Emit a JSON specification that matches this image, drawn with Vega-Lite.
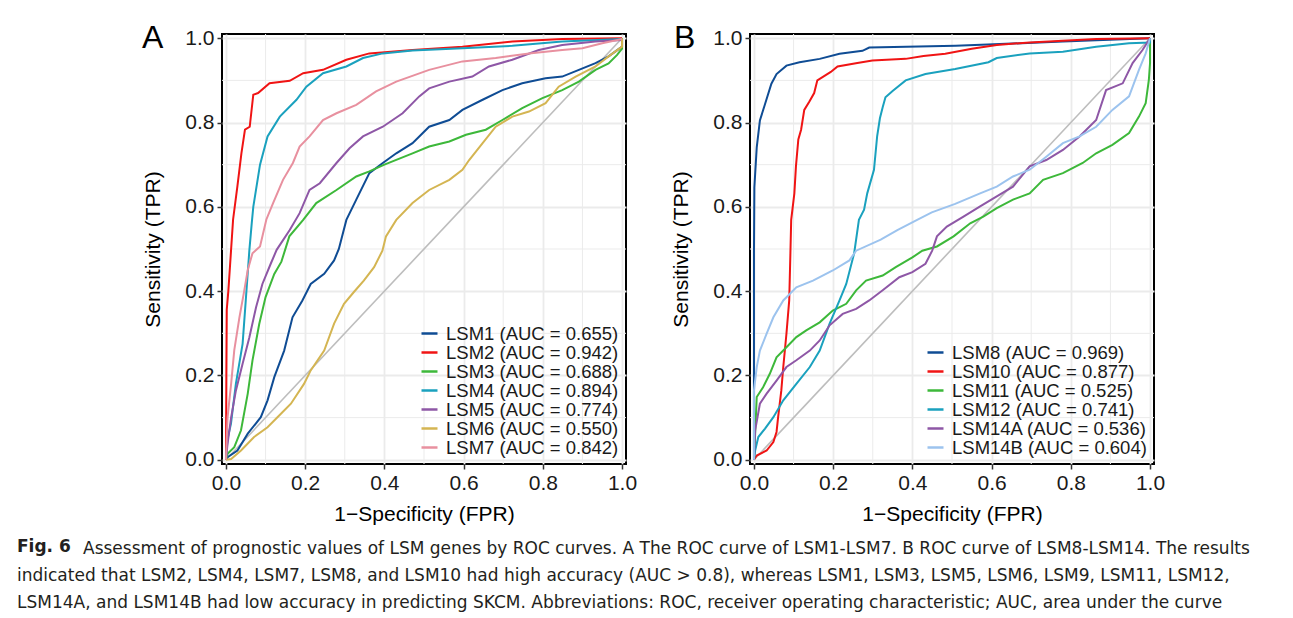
{
  "$schema": "https://vega.github.io/schema/vega-lite/v6.json",
  "padding": {"left": 17, "top": 21, "right": 5, "bottom": 5},
  "background": "white",
  "title": {"text": "Fig. 6", "orient": "bottom", "anchor": "start", "frame": "bounds", "font": "DejaVu Sans", "fontSize": 17, "fontWeight": "bold", "color": "#231F20", "offset": -72},
  "datasets": {
    "grid": [{"g": 0.1}, {"g": 0.3}, {"g": 0.5}, {"g": 0.7}, {"g": 0.9}],
    "diag": [{"x": 0, "y": 0}, {"x": 1, "y": 1}],
    "a": [
      {"s":"LSM1 (AUC = 0.655)","x":0,"y":0},{"s":"LSM1 (AUC = 0.655)","x":0.004,"y":0.006},{"s":"LSM1 (AUC = 0.655)","x":0.029,"y":0.022},{"s":"LSM1 (AUC = 0.655)","x":0.055,"y":0.062},{"s":"LSM1 (AUC = 0.655)","x":0.088,"y":0.101},{"s":"LSM1 (AUC = 0.655)","x":0.105,"y":0.141},{"s":"LSM1 (AUC = 0.655)","x":0.122,"y":0.196},{"s":"LSM1 (AUC = 0.655)","x":0.147,"y":0.259},{"s":"LSM1 (AUC = 0.655)","x":0.168,"y":0.338},{"s":"LSM1 (AUC = 0.655)","x":0.193,"y":0.378},{"s":"LSM1 (AUC = 0.655)","x":0.214,"y":0.417},{"s":"LSM1 (AUC = 0.655)","x":0.248,"y":0.441},{"s":"LSM1 (AUC = 0.655)","x":0.273,"y":0.473},{"s":"LSM1 (AUC = 0.655)","x":0.285,"y":0.5},{"s":"LSM1 (AUC = 0.655)","x":0.304,"y":0.569},{"s":"LSM1 (AUC = 0.655)","x":0.329,"y":0.617},{"s":"LSM1 (AUC = 0.655)","x":0.362,"y":0.68},{"s":"LSM1 (AUC = 0.655)","x":0.396,"y":0.704},{"s":"LSM1 (AUC = 0.655)","x":0.43,"y":0.727},{"s":"LSM1 (AUC = 0.655)","x":0.471,"y":0.751},{"s":"LSM1 (AUC = 0.655)","x":0.513,"y":0.79},{"s":"LSM1 (AUC = 0.655)","x":0.564,"y":0.806},{"s":"LSM1 (AUC = 0.655)","x":0.597,"y":0.83},{"s":"LSM1 (AUC = 0.655)","x":0.648,"y":0.854},{"s":"LSM1 (AUC = 0.655)","x":0.698,"y":0.877},{"s":"LSM1 (AUC = 0.655)","x":0.748,"y":0.893},{"s":"LSM1 (AUC = 0.655)","x":0.807,"y":0.905},{"s":"LSM1 (AUC = 0.655)","x":0.849,"y":0.909},{"s":"LSM1 (AUC = 0.655)","x":0.891,"y":0.925},{"s":"LSM1 (AUC = 0.655)","x":0.933,"y":0.941},{"s":"LSM1 (AUC = 0.655)","x":0.966,"y":0.957},{"s":"LSM1 (AUC = 0.655)","x":1,"y":0.98},{"s":"LSM1 (AUC = 0.655)","x":1,"y":1},
      {"s":"LSM2 (AUC = 0.942)","x":0,"y":0},{"s":"LSM2 (AUC = 0.942)","x":0.001,"y":0.2},{"s":"LSM2 (AUC = 0.942)","x":0.002,"y":0.356},{"s":"LSM2 (AUC = 0.942)","x":0.006,"y":0.4},{"s":"LSM2 (AUC = 0.942)","x":0.018,"y":0.57},{"s":"LSM2 (AUC = 0.942)","x":0.029,"y":0.65},{"s":"LSM2 (AUC = 0.942)","x":0.039,"y":0.727},{"s":"LSM2 (AUC = 0.942)","x":0.048,"y":0.783},{"s":"LSM2 (AUC = 0.942)","x":0.06,"y":0.79},{"s":"LSM2 (AUC = 0.942)","x":0.069,"y":0.866},{"s":"LSM2 (AUC = 0.942)","x":0.081,"y":0.87},{"s":"LSM2 (AUC = 0.942)","x":0.11,"y":0.893},{"s":"LSM2 (AUC = 0.942)","x":0.161,"y":0.899},{"s":"LSM2 (AUC = 0.942)","x":0.195,"y":0.917},{"s":"LSM2 (AUC = 0.942)","x":0.245,"y":0.925},{"s":"LSM2 (AUC = 0.942)","x":0.304,"y":0.949},{"s":"LSM2 (AUC = 0.942)","x":0.362,"y":0.964},{"s":"LSM2 (AUC = 0.942)","x":0.471,"y":0.972},{"s":"LSM2 (AUC = 0.942)","x":0.597,"y":0.98},{"s":"LSM2 (AUC = 0.942)","x":0.723,"y":0.992},{"s":"LSM2 (AUC = 0.942)","x":0.849,"y":0.998},{"s":"LSM2 (AUC = 0.942)","x":1,"y":1},
      {"s":"LSM3 (AUC = 0.688)","x":0,"y":0},{"s":"LSM3 (AUC = 0.688)","x":0.004,"y":0.014},{"s":"LSM3 (AUC = 0.688)","x":0.021,"y":0.03},{"s":"LSM3 (AUC = 0.688)","x":0.038,"y":0.07},{"s":"LSM3 (AUC = 0.688)","x":0.055,"y":0.157},{"s":"LSM3 (AUC = 0.688)","x":0.067,"y":0.236},{"s":"LSM3 (AUC = 0.688)","x":0.084,"y":0.322},{"s":"LSM3 (AUC = 0.688)","x":0.1,"y":0.386},{"s":"LSM3 (AUC = 0.688)","x":0.122,"y":0.441},{"s":"LSM3 (AUC = 0.688)","x":0.14,"y":0.47},{"s":"LSM3 (AUC = 0.688)","x":0.16,"y":0.53},{"s":"LSM3 (AUC = 0.688)","x":0.195,"y":0.569},{"s":"LSM3 (AUC = 0.688)","x":0.228,"y":0.609},{"s":"LSM3 (AUC = 0.688)","x":0.279,"y":0.64},{"s":"LSM3 (AUC = 0.688)","x":0.329,"y":0.672},{"s":"LSM3 (AUC = 0.688)","x":0.362,"y":0.684},{"s":"LSM3 (AUC = 0.688)","x":0.4,"y":0.7},{"s":"LSM3 (AUC = 0.688)","x":0.471,"y":0.727},{"s":"LSM3 (AUC = 0.688)","x":0.513,"y":0.743},{"s":"LSM3 (AUC = 0.688)","x":0.564,"y":0.755},{"s":"LSM3 (AUC = 0.688)","x":0.606,"y":0.771},{"s":"LSM3 (AUC = 0.688)","x":0.656,"y":0.783},{"s":"LSM3 (AUC = 0.688)","x":0.698,"y":0.806},{"s":"LSM3 (AUC = 0.688)","x":0.748,"y":0.834},{"s":"LSM3 (AUC = 0.688)","x":0.799,"y":0.858},{"s":"LSM3 (AUC = 0.688)","x":0.849,"y":0.877},{"s":"LSM3 (AUC = 0.688)","x":0.891,"y":0.897},{"s":"LSM3 (AUC = 0.688)","x":0.933,"y":0.925},{"s":"LSM3 (AUC = 0.688)","x":0.966,"y":0.94},{"s":"LSM3 (AUC = 0.688)","x":0.987,"y":0.96},{"s":"LSM3 (AUC = 0.688)","x":1,"y":0.975},{"s":"LSM3 (AUC = 0.688)","x":1,"y":1},
      {"s":"LSM4 (AUC = 0.894)","x":0,"y":0},{"s":"LSM4 (AUC = 0.894)","x":0.004,"y":0.05},{"s":"LSM4 (AUC = 0.894)","x":0.0126,"y":0.085},{"s":"LSM4 (AUC = 0.894)","x":0.025,"y":0.18},{"s":"LSM4 (AUC = 0.894)","x":0.042,"y":0.275},{"s":"LSM4 (AUC = 0.894)","x":0.05,"y":0.378},{"s":"LSM4 (AUC = 0.894)","x":0.059,"y":0.496},{"s":"LSM4 (AUC = 0.894)","x":0.065,"y":0.56},{"s":"LSM4 (AUC = 0.894)","x":0.069,"y":0.6},{"s":"LSM4 (AUC = 0.894)","x":0.086,"y":0.7},{"s":"LSM4 (AUC = 0.894)","x":0.105,"y":0.767},{"s":"LSM4 (AUC = 0.894)","x":0.136,"y":0.814},{"s":"LSM4 (AUC = 0.894)","x":0.178,"y":0.854},{"s":"LSM4 (AUC = 0.894)","x":0.203,"y":0.885},{"s":"LSM4 (AUC = 0.894)","x":0.245,"y":0.917},{"s":"LSM4 (AUC = 0.894)","x":0.304,"y":0.933},{"s":"LSM4 (AUC = 0.894)","x":0.346,"y":0.953},{"s":"LSM4 (AUC = 0.894)","x":0.396,"y":0.964},{"s":"LSM4 (AUC = 0.894)","x":0.471,"y":0.971},{"s":"LSM4 (AUC = 0.894)","x":0.597,"y":0.976},{"s":"LSM4 (AUC = 0.894)","x":0.723,"y":0.982},{"s":"LSM4 (AUC = 0.894)","x":0.849,"y":0.992},{"s":"LSM4 (AUC = 0.894)","x":1,"y":0.998},
      {"s":"LSM5 (AUC = 0.774)","x":0,"y":0},{"s":"LSM5 (AUC = 0.774)","x":0.004,"y":0.038},{"s":"LSM5 (AUC = 0.774)","x":0.013,"y":0.1},{"s":"LSM5 (AUC = 0.774)","x":0.025,"y":0.164},{"s":"LSM5 (AUC = 0.774)","x":0.042,"y":0.228},{"s":"LSM5 (AUC = 0.774)","x":0.059,"y":0.29},{"s":"LSM5 (AUC = 0.774)","x":0.076,"y":0.362},{"s":"LSM5 (AUC = 0.774)","x":0.092,"y":0.417},{"s":"LSM5 (AUC = 0.774)","x":0.113,"y":0.465},{"s":"LSM5 (AUC = 0.774)","x":0.128,"y":0.498},{"s":"LSM5 (AUC = 0.774)","x":0.161,"y":0.545},{"s":"LSM5 (AUC = 0.774)","x":0.186,"y":0.585},{"s":"LSM5 (AUC = 0.774)","x":0.211,"y":0.64},{"s":"LSM5 (AUC = 0.774)","x":0.237,"y":0.656},{"s":"LSM5 (AUC = 0.774)","x":0.279,"y":0.704},{"s":"LSM5 (AUC = 0.774)","x":0.312,"y":0.739},{"s":"LSM5 (AUC = 0.774)","x":0.346,"y":0.767},{"s":"LSM5 (AUC = 0.774)","x":0.396,"y":0.79},{"s":"LSM5 (AUC = 0.774)","x":0.446,"y":0.822},{"s":"LSM5 (AUC = 0.774)","x":0.488,"y":0.862},{"s":"LSM5 (AUC = 0.774)","x":0.513,"y":0.881},{"s":"LSM5 (AUC = 0.774)","x":0.564,"y":0.897},{"s":"LSM5 (AUC = 0.774)","x":0.622,"y":0.909},{"s":"LSM5 (AUC = 0.774)","x":0.664,"y":0.933},{"s":"LSM5 (AUC = 0.774)","x":0.723,"y":0.949},{"s":"LSM5 (AUC = 0.774)","x":0.79,"y":0.972},{"s":"LSM5 (AUC = 0.774)","x":0.849,"y":0.984},{"s":"LSM5 (AUC = 0.774)","x":0.933,"y":0.992},{"s":"LSM5 (AUC = 0.774)","x":1,"y":0.996},
      {"s":"LSM6 (AUC = 0.550)","x":0,"y":0},{"s":"LSM6 (AUC = 0.550)","x":0.013,"y":0.002},{"s":"LSM6 (AUC = 0.550)","x":0.038,"y":0.022},{"s":"LSM6 (AUC = 0.550)","x":0.071,"y":0.054},{"s":"LSM6 (AUC = 0.550)","x":0.105,"y":0.077},{"s":"LSM6 (AUC = 0.550)","x":0.13,"y":0.101},{"s":"LSM6 (AUC = 0.550)","x":0.164,"y":0.133},{"s":"LSM6 (AUC = 0.550)","x":0.197,"y":0.18},{"s":"LSM6 (AUC = 0.550)","x":0.214,"y":0.212},{"s":"LSM6 (AUC = 0.550)","x":0.248,"y":0.259},{"s":"LSM6 (AUC = 0.550)","x":0.273,"y":0.323},{"s":"LSM6 (AUC = 0.550)","x":0.298,"y":0.37},{"s":"LSM6 (AUC = 0.550)","x":0.323,"y":0.398},{"s":"LSM6 (AUC = 0.550)","x":0.348,"y":0.425},{"s":"LSM6 (AUC = 0.550)","x":0.374,"y":0.457},{"s":"LSM6 (AUC = 0.550)","x":0.395,"y":0.496},{"s":"LSM6 (AUC = 0.550)","x":0.404,"y":0.53},{"s":"LSM6 (AUC = 0.550)","x":0.43,"y":0.569},{"s":"LSM6 (AUC = 0.550)","x":0.471,"y":0.609},{"s":"LSM6 (AUC = 0.550)","x":0.513,"y":0.64},{"s":"LSM6 (AUC = 0.550)","x":0.564,"y":0.664},{"s":"LSM6 (AUC = 0.550)","x":0.597,"y":0.688},{"s":"LSM6 (AUC = 0.550)","x":0.614,"y":0.711},{"s":"LSM6 (AUC = 0.550)","x":0.648,"y":0.751},{"s":"LSM6 (AUC = 0.550)","x":0.681,"y":0.79},{"s":"LSM6 (AUC = 0.550)","x":0.723,"y":0.814},{"s":"LSM6 (AUC = 0.550)","x":0.765,"y":0.826},{"s":"LSM6 (AUC = 0.550)","x":0.807,"y":0.846},{"s":"LSM6 (AUC = 0.550)","x":0.84,"y":0.885},{"s":"LSM6 (AUC = 0.550)","x":0.883,"y":0.909},{"s":"LSM6 (AUC = 0.550)","x":0.933,"y":0.933},{"s":"LSM6 (AUC = 0.550)","x":0.966,"y":0.957},{"s":"LSM6 (AUC = 0.550)","x":1,"y":0.98},{"s":"LSM6 (AUC = 0.550)","x":1,"y":1},
      {"s":"LSM7 (AUC = 0.842)","x":0,"y":0},{"s":"LSM7 (AUC = 0.842)","x":0.004,"y":0.1},{"s":"LSM7 (AUC = 0.842)","x":0.013,"y":0.18},{"s":"LSM7 (AUC = 0.842)","x":0.021,"y":0.26},{"s":"LSM7 (AUC = 0.842)","x":0.034,"y":0.338},{"s":"LSM7 (AUC = 0.842)","x":0.046,"y":0.4},{"s":"LSM7 (AUC = 0.842)","x":0.055,"y":0.45},{"s":"LSM7 (AUC = 0.842)","x":0.067,"y":0.49},{"s":"LSM7 (AUC = 0.842)","x":0.086,"y":0.506},{"s":"LSM7 (AUC = 0.842)","x":0.102,"y":0.57},{"s":"LSM7 (AUC = 0.842)","x":0.119,"y":0.609},{"s":"LSM7 (AUC = 0.842)","x":0.144,"y":0.664},{"s":"LSM7 (AUC = 0.842)","x":0.169,"y":0.704},{"s":"LSM7 (AUC = 0.842)","x":0.186,"y":0.743},{"s":"LSM7 (AUC = 0.842)","x":0.211,"y":0.767},{"s":"LSM7 (AUC = 0.842)","x":0.245,"y":0.806},{"s":"LSM7 (AUC = 0.842)","x":0.279,"y":0.822},{"s":"LSM7 (AUC = 0.842)","x":0.329,"y":0.842},{"s":"LSM7 (AUC = 0.842)","x":0.379,"y":0.874},{"s":"LSM7 (AUC = 0.842)","x":0.43,"y":0.897},{"s":"LSM7 (AUC = 0.842)","x":0.513,"y":0.925},{"s":"LSM7 (AUC = 0.842)","x":0.597,"y":0.945},{"s":"LSM7 (AUC = 0.842)","x":0.681,"y":0.953},{"s":"LSM7 (AUC = 0.842)","x":0.765,"y":0.964},{"s":"LSM7 (AUC = 0.842)","x":0.849,"y":0.972},{"s":"LSM7 (AUC = 0.842)","x":0.9,"y":0.976},{"s":"LSM7 (AUC = 0.842)","x":0.95,"y":0.988},{"s":"LSM7 (AUC = 0.842)","x":1,"y":0.998}
    ],
    "b": [
      {"s":"LSM8 (AUC = 0.969)","x":0,"y":0},{"s":"LSM8 (AUC = 0.969)","x":0,"y":0.49},{"s":"LSM8 (AUC = 0.969)","x":0.001,"y":0.646},{"s":"LSM8 (AUC = 0.969)","x":0.007,"y":0.741},{"s":"LSM8 (AUC = 0.969)","x":0.015,"y":0.805},{"s":"LSM8 (AUC = 0.969)","x":0.028,"y":0.844},{"s":"LSM8 (AUC = 0.969)","x":0.044,"y":0.892},{"s":"LSM8 (AUC = 0.969)","x":0.057,"y":0.915},{"s":"LSM8 (AUC = 0.969)","x":0.082,"y":0.935},{"s":"LSM8 (AUC = 0.969)","x":0.115,"y":0.943},{"s":"LSM8 (AUC = 0.969)","x":0.166,"y":0.951},{"s":"LSM8 (AUC = 0.969)","x":0.216,"y":0.963},{"s":"LSM8 (AUC = 0.969)","x":0.274,"y":0.97},{"s":"LSM8 (AUC = 0.969)","x":0.291,"y":0.978},{"s":"LSM8 (AUC = 0.969)","x":0.509,"y":0.982},{"s":"LSM8 (AUC = 0.969)","x":0.59,"y":0.985},{"s":"LSM8 (AUC = 0.969)","x":0.78,"y":0.992},{"s":"LSM8 (AUC = 0.969)","x":1,"y":1},
      {"s":"LSM10 (AUC = 0.877)","x":0,"y":0},{"s":"LSM10 (AUC = 0.877)","x":0.007,"y":0.01},{"s":"LSM10 (AUC = 0.877)","x":0.032,"y":0.022},{"s":"LSM10 (AUC = 0.877)","x":0.049,"y":0.042},{"s":"LSM10 (AUC = 0.877)","x":0.057,"y":0.066},{"s":"LSM10 (AUC = 0.877)","x":0.061,"y":0.101},{"s":"LSM10 (AUC = 0.877)","x":0.069,"y":0.164},{"s":"LSM10 (AUC = 0.877)","x":0.074,"y":0.22},{"s":"LSM10 (AUC = 0.877)","x":0.082,"y":0.299},{"s":"LSM10 (AUC = 0.877)","x":0.089,"y":0.378},{"s":"LSM10 (AUC = 0.877)","x":0.092,"y":0.49},{"s":"LSM10 (AUC = 0.877)","x":0.094,"y":0.569},{"s":"LSM10 (AUC = 0.877)","x":0.102,"y":0.632},{"s":"LSM10 (AUC = 0.877)","x":0.106,"y":0.696},{"s":"LSM10 (AUC = 0.877)","x":0.112,"y":0.76},{"s":"LSM10 (AUC = 0.877)","x":0.119,"y":0.783},{"s":"LSM10 (AUC = 0.877)","x":0.127,"y":0.83},{"s":"LSM10 (AUC = 0.877)","x":0.14,"y":0.85},{"s":"LSM10 (AUC = 0.877)","x":0.152,"y":0.87},{"s":"LSM10 (AUC = 0.877)","x":0.16,"y":0.9},{"s":"LSM10 (AUC = 0.877)","x":0.194,"y":0.92},{"s":"LSM10 (AUC = 0.877)","x":0.211,"y":0.933},{"s":"LSM10 (AUC = 0.877)","x":0.261,"y":0.941},{"s":"LSM10 (AUC = 0.877)","x":0.299,"y":0.947},{"s":"LSM10 (AUC = 0.877)","x":0.383,"y":0.951},{"s":"LSM10 (AUC = 0.877)","x":0.428,"y":0.958},{"s":"LSM10 (AUC = 0.877)","x":0.483,"y":0.963},{"s":"LSM10 (AUC = 0.877)","x":0.55,"y":0.975},{"s":"LSM10 (AUC = 0.877)","x":0.613,"y":0.984},{"s":"LSM10 (AUC = 0.877)","x":0.696,"y":0.99},{"s":"LSM10 (AUC = 0.877)","x":0.78,"y":0.994},{"s":"LSM10 (AUC = 0.877)","x":0.864,"y":0.998},{"s":"LSM10 (AUC = 0.877)","x":1,"y":1},
      {"s":"LSM11 (AUC = 0.525)","x":0,"y":0},{"s":"LSM11 (AUC = 0.525)","x":0.003,"y":0.062},{"s":"LSM11 (AUC = 0.525)","x":0.007,"y":0.149},{"s":"LSM11 (AUC = 0.525)","x":0.023,"y":0.172},{"s":"LSM11 (AUC = 0.525)","x":0.04,"y":0.204},{"s":"LSM11 (AUC = 0.525)","x":0.057,"y":0.243},{"s":"LSM11 (AUC = 0.525)","x":0.082,"y":0.267},{"s":"LSM11 (AUC = 0.525)","x":0.107,"y":0.291},{"s":"LSM11 (AUC = 0.525)","x":0.132,"y":0.307},{"s":"LSM11 (AUC = 0.525)","x":0.166,"y":0.326},{"s":"LSM11 (AUC = 0.525)","x":0.199,"y":0.354},{"s":"LSM11 (AUC = 0.525)","x":0.233,"y":0.37},{"s":"LSM11 (AUC = 0.525)","x":0.258,"y":0.402},{"s":"LSM11 (AUC = 0.525)","x":0.283,"y":0.425},{"s":"LSM11 (AUC = 0.525)","x":0.325,"y":0.437},{"s":"LSM11 (AUC = 0.525)","x":0.358,"y":0.457},{"s":"LSM11 (AUC = 0.525)","x":0.4,"y":0.48},{"s":"LSM11 (AUC = 0.525)","x":0.425,"y":0.496},{"s":"LSM11 (AUC = 0.525)","x":0.462,"y":0.506},{"s":"LSM11 (AUC = 0.525)","x":0.504,"y":0.53},{"s":"LSM11 (AUC = 0.525)","x":0.546,"y":0.561},{"s":"LSM11 (AUC = 0.525)","x":0.579,"y":0.577},{"s":"LSM11 (AUC = 0.525)","x":0.613,"y":0.597},{"s":"LSM11 (AUC = 0.525)","x":0.654,"y":0.617},{"s":"LSM11 (AUC = 0.525)","x":0.696,"y":0.632},{"s":"LSM11 (AUC = 0.525)","x":0.73,"y":0.664},{"s":"LSM11 (AUC = 0.525)","x":0.78,"y":0.68},{"s":"LSM11 (AUC = 0.525)","x":0.83,"y":0.704},{"s":"LSM11 (AUC = 0.525)","x":0.864,"y":0.727},{"s":"LSM11 (AUC = 0.525)","x":0.905,"y":0.747},{"s":"LSM11 (AUC = 0.525)","x":0.947,"y":0.775},{"s":"LSM11 (AUC = 0.525)","x":0.972,"y":0.814},{"s":"LSM11 (AUC = 0.525)","x":0.989,"y":0.846},{"s":"LSM11 (AUC = 0.525)","x":0.997,"y":0.901},{"s":"LSM11 (AUC = 0.525)","x":1,"y":0.941},{"s":"LSM11 (AUC = 0.525)","x":1,"y":1},
      {"s":"LSM12 (AUC = 0.741)","x":0,"y":0},{"s":"LSM12 (AUC = 0.741)","x":0.003,"y":0.022},{"s":"LSM12 (AUC = 0.741)","x":0.011,"y":0.054},{"s":"LSM12 (AUC = 0.741)","x":0.028,"y":0.074},{"s":"LSM12 (AUC = 0.741)","x":0.049,"y":0.101},{"s":"LSM12 (AUC = 0.741)","x":0.074,"y":0.141},{"s":"LSM12 (AUC = 0.741)","x":0.107,"y":0.18},{"s":"LSM12 (AUC = 0.741)","x":0.141,"y":0.22},{"s":"LSM12 (AUC = 0.741)","x":0.166,"y":0.259},{"s":"LSM12 (AUC = 0.741)","x":0.191,"y":0.323},{"s":"LSM12 (AUC = 0.741)","x":0.216,"y":0.378},{"s":"LSM12 (AUC = 0.741)","x":0.233,"y":0.417},{"s":"LSM12 (AUC = 0.741)","x":0.253,"y":0.49},{"s":"LSM12 (AUC = 0.741)","x":0.265,"y":0.569},{"s":"LSM12 (AUC = 0.741)","x":0.278,"y":0.593},{"s":"LSM12 (AUC = 0.741)","x":0.286,"y":0.632},{"s":"LSM12 (AUC = 0.741)","x":0.303,"y":0.688},{"s":"LSM12 (AUC = 0.741)","x":0.311,"y":0.767},{"s":"LSM12 (AUC = 0.741)","x":0.318,"y":0.81},{"s":"LSM12 (AUC = 0.741)","x":0.325,"y":0.836},{"s":"LSM12 (AUC = 0.741)","x":0.332,"y":0.86},{"s":"LSM12 (AUC = 0.741)","x":0.35,"y":0.875},{"s":"LSM12 (AUC = 0.741)","x":0.383,"y":0.9},{"s":"LSM12 (AUC = 0.741)","x":0.433,"y":0.915},{"s":"LSM12 (AUC = 0.741)","x":0.508,"y":0.927},{"s":"LSM12 (AUC = 0.741)","x":0.592,"y":0.943},{"s":"LSM12 (AUC = 0.741)","x":0.613,"y":0.953},{"s":"LSM12 (AUC = 0.741)","x":0.696,"y":0.964},{"s":"LSM12 (AUC = 0.741)","x":0.78,"y":0.968},{"s":"LSM12 (AUC = 0.741)","x":0.864,"y":0.98},{"s":"LSM12 (AUC = 0.741)","x":0.947,"y":0.988},{"s":"LSM12 (AUC = 0.741)","x":1,"y":0.99},{"s":"LSM12 (AUC = 0.741)","x":1,"y":1},
      {"s":"LSM14A (AUC = 0.536)","x":0,"y":0},{"s":"LSM14A (AUC = 0.536)","x":0.003,"y":0.07},{"s":"LSM14A (AUC = 0.536)","x":0.015,"y":0.133},{"s":"LSM14A (AUC = 0.536)","x":0.032,"y":0.157},{"s":"LSM14A (AUC = 0.536)","x":0.057,"y":0.188},{"s":"LSM14A (AUC = 0.536)","x":0.082,"y":0.22},{"s":"LSM14A (AUC = 0.536)","x":0.107,"y":0.236},{"s":"LSM14A (AUC = 0.536)","x":0.141,"y":0.259},{"s":"LSM14A (AUC = 0.536)","x":0.166,"y":0.283},{"s":"LSM14A (AUC = 0.536)","x":0.191,"y":0.319},{"s":"LSM14A (AUC = 0.536)","x":0.224,"y":0.346},{"s":"LSM14A (AUC = 0.536)","x":0.258,"y":0.358},{"s":"LSM14A (AUC = 0.536)","x":0.291,"y":0.378},{"s":"LSM14A (AUC = 0.536)","x":0.325,"y":0.402},{"s":"LSM14A (AUC = 0.536)","x":0.367,"y":0.433},{"s":"LSM14A (AUC = 0.536)","x":0.4,"y":0.445},{"s":"LSM14A (AUC = 0.536)","x":0.433,"y":0.465},{"s":"LSM14A (AUC = 0.536)","x":0.45,"y":0.496},{"s":"LSM14A (AUC = 0.536)","x":0.462,"y":0.53},{"s":"LSM14A (AUC = 0.536)","x":0.487,"y":0.553},{"s":"LSM14A (AUC = 0.536)","x":0.529,"y":0.577},{"s":"LSM14A (AUC = 0.536)","x":0.571,"y":0.601},{"s":"LSM14A (AUC = 0.536)","x":0.613,"y":0.625},{"s":"LSM14A (AUC = 0.536)","x":0.654,"y":0.648},{"s":"LSM14A (AUC = 0.536)","x":0.696,"y":0.696},{"s":"LSM14A (AUC = 0.536)","x":0.738,"y":0.711},{"s":"LSM14A (AUC = 0.536)","x":0.78,"y":0.735},{"s":"LSM14A (AUC = 0.536)","x":0.822,"y":0.767},{"s":"LSM14A (AUC = 0.536)","x":0.864,"y":0.806},{"s":"LSM14A (AUC = 0.536)","x":0.889,"y":0.877},{"s":"LSM14A (AUC = 0.536)","x":0.931,"y":0.893},{"s":"LSM14A (AUC = 0.536)","x":0.956,"y":0.941},{"s":"LSM14A (AUC = 0.536)","x":0.981,"y":0.972},{"s":"LSM14A (AUC = 0.536)","x":1,"y":1},
      {"s":"LSM14B (AUC = 0.604)","x":0,"y":0},{"s":"LSM14B (AUC = 0.604)","x":0,"y":0.164},{"s":"LSM14B (AUC = 0.604)","x":0.007,"y":0.22},{"s":"LSM14B (AUC = 0.604)","x":0.015,"y":0.259},{"s":"LSM14B (AUC = 0.604)","x":0.032,"y":0.299},{"s":"LSM14B (AUC = 0.604)","x":0.049,"y":0.338},{"s":"LSM14B (AUC = 0.604)","x":0.074,"y":0.378},{"s":"LSM14B (AUC = 0.604)","x":0.107,"y":0.409},{"s":"LSM14B (AUC = 0.604)","x":0.149,"y":0.425},{"s":"LSM14B (AUC = 0.604)","x":0.199,"y":0.449},{"s":"LSM14B (AUC = 0.604)","x":0.241,"y":0.473},{"s":"LSM14B (AUC = 0.604)","x":0.258,"y":0.496},{"s":"LSM14B (AUC = 0.604)","x":0.32,"y":0.522},{"s":"LSM14B (AUC = 0.604)","x":0.362,"y":0.545},{"s":"LSM14B (AUC = 0.604)","x":0.412,"y":0.569},{"s":"LSM14B (AUC = 0.604)","x":0.449,"y":0.587},{"s":"LSM14B (AUC = 0.604)","x":0.508,"y":0.607},{"s":"LSM14B (AUC = 0.604)","x":0.571,"y":0.632},{"s":"LSM14B (AUC = 0.604)","x":0.613,"y":0.648},{"s":"LSM14B (AUC = 0.604)","x":0.654,"y":0.672},{"s":"LSM14B (AUC = 0.604)","x":0.696,"y":0.688},{"s":"LSM14B (AUC = 0.604)","x":0.738,"y":0.719},{"s":"LSM14B (AUC = 0.604)","x":0.78,"y":0.751},{"s":"LSM14B (AUC = 0.604)","x":0.822,"y":0.767},{"s":"LSM14B (AUC = 0.604)","x":0.864,"y":0.79},{"s":"LSM14B (AUC = 0.604)","x":0.905,"y":0.83},{"s":"LSM14B (AUC = 0.604)","x":0.947,"y":0.862},{"s":"LSM14B (AUC = 0.604)","x":0.972,"y":0.925},{"s":"LSM14B (AUC = 0.604)","x":0.989,"y":0.964},{"s":"LSM14B (AUC = 0.604)","x":1,"y":1}
    ]
  },
  "vconcat": [
    {
      "title": {
        "text": [
          "indicated that LSM2, LSM4, LSM7, LSM8, and LSM10 had high accuracy (AUC > 0.8), whereas LSM1, LSM3, LSM5, LSM6, LSM9, LSM11, LSM12,",
          "LSM14A, and LSM14B had low accuracy in predicting SKCM. Abbreviations: ROC, receiver operating characteristic; AUC, area under the curve"
        ],
        "orient": "bottom", "anchor": "start", "frame": "bounds",
        "font": "DejaVu Sans", "fontSize": 17, "fontWeight": "normal", "color": "#231F20",
        "lineHeight": 27, "offset": 10.5, "dx": -66
      },
      "vconcat": [
        {
          "title": {
            "text": "Assessment of prognostic values of LSM genes by ROC curves. A The ROC curve of LSM1-LSM7. B ROC curve of LSM8-LSM14. The results",
            "orient": "bottom", "anchor": "start", "frame": "bounds",
            "font": "DejaVu Sans", "fontSize": 17, "fontWeight": "normal", "color": "#231F20",
            "offset": 16, "dx": -58
          },
          "spacing": 31,
          "resolve": {"scale": {"color": "independent", "x": "independent", "y": "independent"}, "legend": {"color": "independent"}},
          "hconcat": [
            {
              "width": 404, "height": 430,
              "title": {"text": "A", "anchor": "start", "frame": "group", "fontSize": 32, "fontWeight": "normal", "font": "Liberation Sans", "color": "#000000", "baseline": "alphabetic", "offset": -35, "dx": -80, "dy": 18},
              "layer": [
                {"data": {"name": "grid"}, "mark": {"type": "rule", "color": "#EBEBEB", "strokeWidth": 1},
                 "encoding": {"x": {"field": "g", "type": "quantitative", "scale": {"domain": [-0.01, 1.01], "nice": false, "zero": false}, "axis": {"title": "1−Specificity (FPR)", "values": [0, 0.2, 0.4, 0.6, 0.8, 1]}}}},
                {"data": {"name": "grid"}, "mark": {"type": "rule", "color": "#EBEBEB", "strokeWidth": 1},
                 "encoding": {"y": {"field": "g", "type": "quantitative", "scale": {"domain": [-0.01, 1.01], "nice": false, "zero": false}, "axis": {"title": "Sensitivity (TPR)", "values": [0, 0.2, 0.4, 0.6, 0.8, 1]}}}},
                {"data": {"name": "diag"}, "mark": {"type": "line", "color": "#BDBDBD", "strokeWidth": 1.6},
                 "encoding": {"x": {"field": "x", "type": "quantitative", "axis": {"title": "1−Specificity (FPR)", "values": [0, 0.2, 0.4, 0.6, 0.8, 1]}}, "y": {"field": "y", "type": "quantitative", "axis": {"title": "Sensitivity (TPR)", "values": [0, 0.2, 0.4, 0.6, 0.8, 1]}}}},
                {"data": {"name": "a"}, "mark": {"type": "line", "strokeWidth": 2},
                 "encoding": {
                   "x": {"field": "x", "type": "quantitative", "scale": {"domain": [-0.01, 1.01], "nice": false, "zero": false}, "axis": {"title": "1−Specificity (FPR)", "values": [0, 0.2, 0.4, 0.6, 0.8, 1]}},
                   "y": {"field": "y", "type": "quantitative", "scale": {"domain": [-0.01, 1.01], "nice": false, "zero": false}, "axis": {"title": "Sensitivity (TPR)", "values": [0, 0.2, 0.4, 0.6, 0.8, 1]}},
                   "color": {"field": "s", "type": "nominal", "scale": {"domain": ["LSM1 (AUC = 0.655)", "LSM2 (AUC = 0.942)", "LSM3 (AUC = 0.688)", "LSM4 (AUC = 0.894)", "LSM5 (AUC = 0.774)", "LSM6 (AUC = 0.550)", "LSM7 (AUC = 0.842)"], "range": ["#0F4C94", "#F01414", "#3DB83A", "#1AA1BE", "#8E57A6", "#D4B552", "#E8909F"]}, "legend": {"title": null}},
                   "order": {"value": null}
                 }}
              ]
            },
            {
              "width": 404, "height": 430,
              "title": {"text": "B", "anchor": "start", "frame": "group", "fontSize": 32, "fontWeight": "normal", "font": "Liberation Sans", "color": "#000000", "baseline": "alphabetic", "offset": -35, "dx": -76, "dy": 18},
              "layer": [
                {"data": {"name": "grid"}, "mark": {"type": "rule", "color": "#EBEBEB", "strokeWidth": 1},
                 "encoding": {"x": {"field": "g", "type": "quantitative", "scale": {"domain": [-0.01, 1.01], "nice": false, "zero": false}, "axis": {"title": "1−Specificity (FPR)", "values": [0, 0.2, 0.4, 0.6, 0.8, 1]}}}},
                {"data": {"name": "grid"}, "mark": {"type": "rule", "color": "#EBEBEB", "strokeWidth": 1},
                 "encoding": {"y": {"field": "g", "type": "quantitative", "scale": {"domain": [-0.01, 1.01], "nice": false, "zero": false}, "axis": {"title": "Sensitivity (TPR)", "values": [0, 0.2, 0.4, 0.6, 0.8, 1]}}}},
                {"data": {"name": "diag"}, "mark": {"type": "line", "color": "#BDBDBD", "strokeWidth": 1.6},
                 "encoding": {"x": {"field": "x", "type": "quantitative", "axis": {"title": "1−Specificity (FPR)", "values": [0, 0.2, 0.4, 0.6, 0.8, 1]}}, "y": {"field": "y", "type": "quantitative", "axis": {"title": "Sensitivity (TPR)", "values": [0, 0.2, 0.4, 0.6, 0.8, 1]}}}},
                {"data": {"name": "b"}, "mark": {"type": "line", "strokeWidth": 2},
                 "encoding": {
                   "x": {"field": "x", "type": "quantitative", "scale": {"domain": [-0.01, 1.01], "nice": false, "zero": false}, "axis": {"title": "1−Specificity (FPR)", "values": [0, 0.2, 0.4, 0.6, 0.8, 1]}},
                   "y": {"field": "y", "type": "quantitative", "scale": {"domain": [-0.01, 1.01], "nice": false, "zero": false}, "axis": {"title": "Sensitivity (TPR)", "values": [0, 0.2, 0.4, 0.6, 0.8, 1]}},
                   "color": {"field": "s", "type": "nominal", "scale": {"domain": ["LSM8 (AUC = 0.969)", "LSM10 (AUC = 0.877)", "LSM11 (AUC = 0.525)", "LSM12 (AUC = 0.741)", "LSM14A (AUC = 0.536)", "LSM14B (AUC = 0.604)"], "range": ["#0F4C94", "#F01414", "#3DB83A", "#1AA1BE", "#8E57A6", "#9CC3EE"]}, "legend": {"title": null}},
                   "order": {"value": null}
                 }}
              ]
            }
          ]
        }
      ]
    }
  ],
  "config": {
    "font": "Liberation Sans",
    "view": {"stroke": "#000000", "strokeWidth": 2},
    "axis": {
      "grid": true, "gridColor": "#EBEBEB", "gridWidth": 1.8,
      "domain": false,
      "format": ".1f",
      "tickColor": "#333333", "tickWidth": 1.5, "tickSize": 5,
      "labelFontSize": 21, "labelColor": "#1a1a1a",
      "labelFlush": false, "labelOverlap": false,
      "titleFontSize": 21, "titleFontWeight": "normal", "titleColor": "#000000"
    },
    "axisY": {"titlePadding": 21, "labelPadding": 3},
    "axisX": {"titlePadding": 10, "labelPadding": 3},
    "legend": {
      "orient": "bottom-right", "offset": 7,
      "labelFontSize": 18.5, "labelColor": "#1a1a1a", "labelOffset": 7, "labelLimit": 400,
      "symbolType": "stroke", "symbolSize": 256, "symbolStrokeWidth": 2.5,
      "rowPadding": 0, "padding": 0
    }
  }
}
